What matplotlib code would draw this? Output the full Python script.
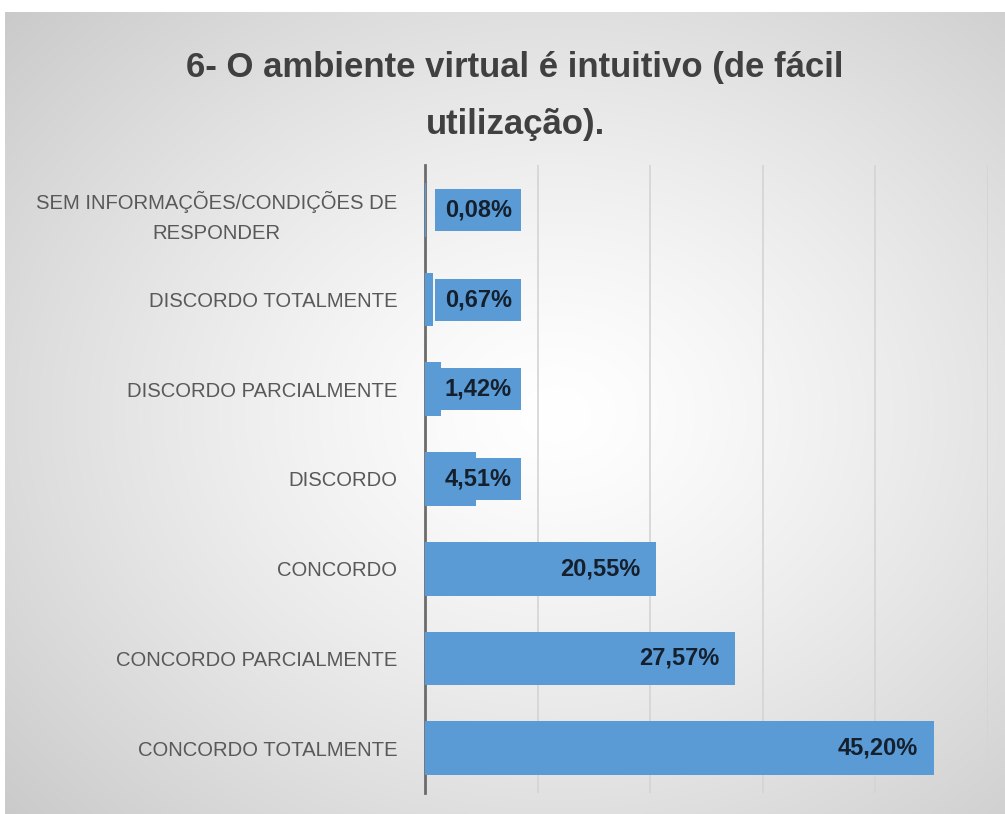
import numpy as np
import matplotlib
matplotlib.use("Agg")
import matplotlib.pyplot as plt

plt.rcParams['font.family'] = ['Liberation Sans', 'DejaVu Sans']

categorias = [
    "SEM INFORMAÇÕES/CONDIÇÕES DE\nRESPONDER",
    "DISCORDO TOTALMENTE",
    "DISCORDO PARCIALMENTE",
    "DISCORDO",
    "CONCORDO",
    "CONCORDO PARCIALMENTE",
    "CONCORDO TOTALMENTE",
]
valores = [0.08, 0.67, 1.42, 4.51, 20.55, 27.57, 45.20]
rotulos = ["0,08%", "0,67%", "1,42%", "4,51%", "20,55%", "27,57%", "45,20%"]
titulo = "6- O ambiente virtual é intuitivo (de fácil\nutilização)."

azul = "#5b9bd5"

fig = plt.figure(figsize=(10.05, 8.14), dpi=100)

# fundo com gradiente radial (estilo Excel)
bg = fig.add_axes([0.005, 0, 0.995, 1 - 12 / 814], zorder=-2)
h, w = 400, 500
yy, xx = np.mgrid[0:h, 0:w]
dx = (xx / w - 0.55) / 0.55
dy = (yy / h - 0.5) / 0.55
r = np.clip(np.sqrt(dx**2 + dy**2) / np.sqrt(2), 0, 1)
g = 1 - 0.22 * r**1.3
bg.imshow(np.dstack([g, g, g]), aspect='auto', extent=[0, 1, 0, 1], interpolation='bilinear')
bg.axis('off')

ax = fig.add_axes([425 / 1005, 1 - 793 / 814, (988 - 425) / 1005, (793 - 165) / 814])
ax.patch.set_alpha(0)

y = np.arange(len(categorias))
ax.barh(y, valores, height=0.6, color=azul, zorder=3)

# rótulos de dados: dentro da barra, ou encostados no eixo quando a barra é curta
for yi, v, txt in zip(y, valores, rotulos):
    ax.text(max(v - 1.45, 7.7), yi, txt, ha='right', va='center', fontsize=17,
            fontweight='bold', color='#15202e', zorder=4,
            bbox=dict(boxstyle='square,pad=0.4', facecolor=azul, edgecolor='none'))

ax.set_xlim(0, 50)
ax.set_ylim(-0.5, len(categorias) - 0.5)
ax.invert_yaxis()
ax.set_xticks([10, 20, 30, 40, 50])
ax.set_xticklabels([])
ax.tick_params(axis='both', length=0)
ax.xaxis.grid(True, color='#d4d4d4', linewidth=1.2, zorder=0)
ax.set_axisbelow(True)
for s in ['top', 'right', 'bottom']:
    ax.spines[s].set_visible(False)
ax.spines['left'].set_color('#6b6b6b')
ax.spines['left'].set_linewidth(2)

ax.set_yticks(y)
ax.set_yticklabels(categorias, fontsize=14.6, color='#595959', multialignment='center',
                   linespacing=1.7)
ax.tick_params(axis='y', pad=20)

fig.text(515 / 1005, 1 - 96 / 814, titulo, ha='center', va='center', fontsize=25,
         fontweight='bold', color='#404040', linespacing=1.9)

fig.savefig("out.png", dpi=100)
